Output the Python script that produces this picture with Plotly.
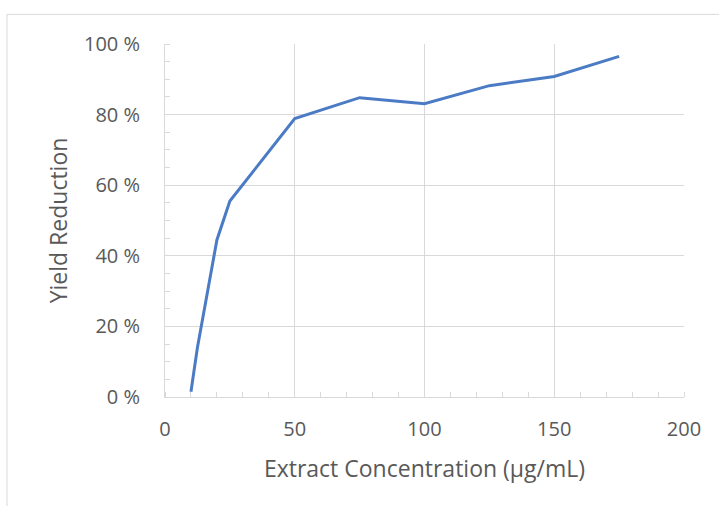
import plotly.graph_objects as go

concentration = [10, 12.5, 20, 25, 50, 75, 100, 125, 150, 175]
yield_reduction = [1.5, 14, 44.5, 55.5, 78.9, 84.8, 83.1, 88.2, 90.8, 96.5]

x_ticks = [0, 50, 100, 150, 200]
y_ticks = [0, 20, 40, 60, 80, 100]
y_tick_labels = ["0 %", "20 %", "40 %", "60 %", "80 %", "100 %"]

text_color = "#595959"
grid_color = "#d9d9d9"
font_family = "Open Sans"

fig = go.Figure()
fig.add_trace(go.Scatter(
    x=concentration, y=yield_reduction, mode="lines",
    line=dict(color="#4A7BC4", width=3),
    showlegend=False, hoverinfo="x+y",
))

W, H = 719, 506
L, R, T, B = 165, 35, 44, 108.5
pw, ph = W - L - R, H - T - B

fig.update_layout(
    width=W, height=H,
    margin=dict(l=L, r=R, t=T, b=B, autoexpand=False),
    paper_bgcolor="white", plot_bgcolor="white",
    font=dict(family=font_family, color=text_color, size=20),
    xaxis=dict(
        range=[0, 200], tickmode="array", tickvals=x_ticks, ticks="", showgrid=True,
        gridcolor=grid_color, gridwidth=1, zeroline=False,
        showline=True, linecolor=grid_color, linewidth=1, mirror=False,
        tickfont=dict(size=20, color=text_color),
        ticklabelstandoff=14,
        minor=dict(dtick=10, ticks="inside", ticklen=5, tickcolor=grid_color,
                   tickwidth=1, showgrid=False),
        title=dict(text="Extract Concentration (µg/mL)",
                   font=dict(size=23, color=text_color), standoff=19),
        automargin=False,
    ),
    yaxis=dict(
        range=[0, 100], tickmode="array", tickvals=y_ticks, ticktext=y_tick_labels,
        ticks="",
        showgrid=True, gridcolor=grid_color, gridwidth=1, zeroline=False,
        showline=True, linecolor=grid_color, linewidth=1,
        tickfont=dict(size=20, color=text_color),
        ticklabelstandoff=20,
        minor=dict(dtick=5, ticks="inside", ticklen=5, tickcolor=grid_color,
                   tickwidth=1, showgrid=False),
        title=dict(text="Yield Reduction",
                   font=dict(size=23, color=text_color), standoff=9),
        automargin=False,
    ),
    shapes=[dict(
        type="rect", xref="paper", yref="paper",
        x0=(7 - L) / pw, x1=(W + 10 - L) / pw,
        y0=(H - B - (H + 10)) / ph, y1=(H - B - 14.3) / ph,
        line=dict(color="#d9d9d9", width=1), fillcolor="rgba(0,0,0,0)",
        layer="below",
    )],
)

fig.write_html("out.html", config={"displayModeBar": False},
               post_script="document.body.style.margin='0';document.body.style.overflow='hidden';")
